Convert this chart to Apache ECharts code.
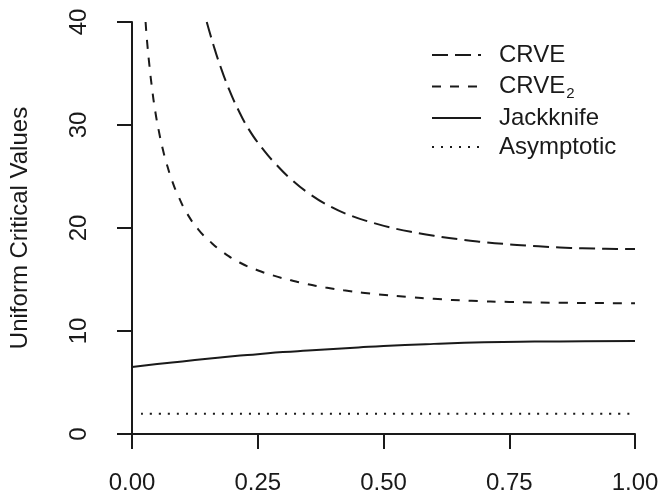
<!DOCTYPE html>
<html>
<head>
<meta charset="utf-8">
<script src="https://cdn.jsdelivr.net/npm/echarts@6/dist/echarts.min.js"></script>
<style>
  html, body { margin: 0; padding: 0; background: #fff; }
  #chart { width: 662px; height: 495px; }
</style>
</head>
<body>
<div id="chart"></div>
<script>
// values, [x, y]
var crve = [[0.1486, 40], [0.162, 37.75], [0.175, 35.8], [0.191, 33.7], [0.210, 31.6], [0.232, 29.6],
  [0.258, 27.8], [0.285, 26.25], [0.317, 24.7], [0.352, 23.35], [0.392, 22.15], [0.435, 21.2],
  [0.476, 20.55], [0.52, 19.98], [0.563, 19.55], [0.609, 19.18], [0.651, 18.9], [0.697, 18.65],
  [0.74, 18.45], [0.786, 18.28], [0.829, 18.16], [0.872, 18.07], [0.918, 18.01], [0.964, 17.97], [1.0, 17.95]];
var crve2 = [[0.027, 40], [0.030, 38.1], [0.035, 35.6], [0.040, 33.5], [0.046, 31.4], [0.053, 29.5],
  [0.060, 27.9], [0.068, 26.4], [0.080, 24.55], [0.093, 23.0], [0.109, 21.45], [0.132, 19.85],
  [0.155, 18.7], [0.181, 17.65], [0.214, 16.65], [0.247, 15.95], [0.28, 15.4], [0.316, 14.92],
  [0.349, 14.55], [0.385, 14.22], [0.421, 13.95], [0.458, 13.72], [0.49, 13.55], [0.55, 13.3],
  [0.6, 13.12], [0.675, 12.93], [0.75, 12.82], [0.85, 12.74], [1.0, 12.7]];
var jackknife = [[0, 6.5], [0.05, 6.8], [0.1, 7.05], [0.15, 7.3], [0.2, 7.55], [0.25, 7.75],
  [0.3, 7.95], [0.35, 8.1], [0.4, 8.25], [0.45, 8.4], [0.5, 8.55], [0.6, 8.75], [0.7, 8.9],
  [0.8, 8.97], [0.9, 9.0], [1.0, 9.02]];
var asymptotic = [[0.018, 1.96], [0.99, 1.96]];

var xTicks = [0, 0.25, 0.5, 0.75, 1];
var yTicks = [0, 10, 20, 30, 40];

var ink = '#1a1a1a';
var font = 'Liberation Sans, Arial, sans-serif';

var chart = echarts.init(document.getElementById('chart'), null, { renderer: 'canvas' });

function lineSeries(name, data, type) {
  return {
    name: name,
    type: 'line',
    data: data,
    showSymbol: false,
    symbol: 'none',
    smooth: 0.5,
    clip: true,
    lineStyle: { color: ink, width: 2, type: type },
    itemStyle: { color: ink }
  };
}

var option = {
  animation: false,
  backgroundColor: '#fff',
  grid: { left: 128, right: 27, top: 22, bottom: 59 },
  legend: {
    orient: 'vertical',
    left: 426,
    top: 38,
    itemWidth: 49,
    itemHeight: 14,
    itemGap: 5,
    data: ['CRVE', 'CRVE2', 'Jackknife', 'Asymptotic'],
    formatter: function (n) {
      if (n === 'CRVE2') return '{n|CRVE}{s|2}';
      return '{n|' + n + '}';
    },
    itemStyle: { opacity: 0 },
    lineStyle: { width: 2 },
    textStyle: {
      fontFamily: font,
      color: ink,
      fontSize: 24,
      lineHeight: 24,
      padding: [0, 0, 0, 13],
      rich: {
        n: { fontFamily: font, color: ink, fontSize: 24, lineHeight: 24 },
        s: { fontFamily: font, color: ink, fontSize: 15, lineHeight: 24, padding: [14, 0, 0, 1] }
      }
    }
  },
  xAxis: {
    type: 'value',
    min: 0,
    max: 1,
    interval: 0.25,
    splitLine: { show: false },
    axisLine: { show: true, onZero: false, lineStyle: { color: ink, width: 2 } },
    axisTick: { show: true, length: 15, lineStyle: { color: ink, width: 2 } },
    axisLabel: {
      margin: 37,
      fontFamily: font,
      fontSize: 24,
      color: ink,
      formatter: function (v) { return v.toFixed(2); },
      customValues: xTicks
    }
  },
  yAxis: {
    type: 'value',
    min: 0,
    max: 40,
    interval: 10,
    name: 'Uniform Critical Values',
    nameLocation: 'middle',
    nameRotate: 90,
    nameGap: 100,
    nameTextStyle: { fontFamily: font, fontSize: 24, color: ink },
    splitLine: { show: false },
    axisLine: { show: true, onZero: false, lineStyle: { color: ink, width: 2 } },
    axisTick: { show: true, length: 15, lineStyle: { color: ink, width: 2 } },
    axisLabel: {
      margin: 41,
      rotate: 90,
      fontFamily: font,
      fontSize: 24,
      color: ink,
      customValues: yTicks
    }
  },
  series: [
    lineSeries('CRVE', crve, [16, 7]),
    lineSeries('CRVE2', crve2, [9, 9]),
    lineSeries('Jackknife', jackknife, 'solid'),
    lineSeries('Asymptotic', asymptotic, [2, 7])
  ]
};

chart.setOption(option);
</script>
</body>
</html>
